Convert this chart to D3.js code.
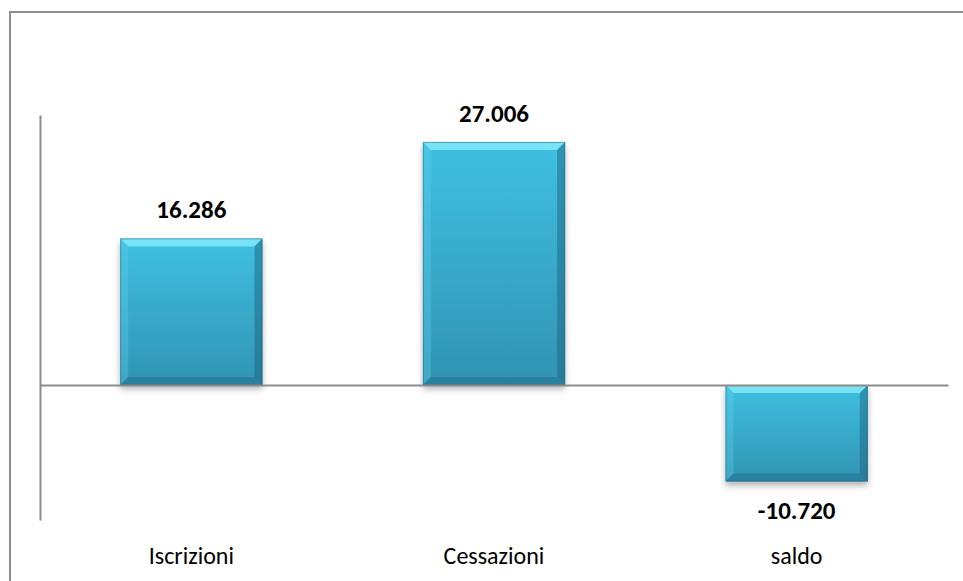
<!DOCTYPE html>
<html>
<head>
  <meta charset="utf-8">
  <title>Iscrizioni e cessazioni</title>
  <script src="https://cdnjs.cloudflare.com/ajax/libs/d3/7.8.5/d3.min.js"></script>
  <style>
    body { margin: 0; background: #fff; }
    svg text { font-family: Calibri, Carlito, Lato, "Open Sans", sans-serif; fill: #000; }
  </style>
</head>
<body>
<div id="chart"></div>
<script>
  var categories = ["Iscrizioni", "Cessazioni", "saldo"];
  var values = [16286, 27006, -10720];
  var yDomain = [-15000, 30000];

  var W = 963, H = 581;
  var plotLeft = 40, plotRight = 948, plotTop = 115, plotBottom = 520;

  var it = d3.formatLocale({decimal: ",", thousands: ".", grouping: [3], currency: ["", " €"], minus: "-"});
  var fmt = it.format(",");

  var svg = d3.select("#chart").append("svg")
    .attr("width", W)
    .attr("height", H);

  var defs = svg.append("defs");
  var grad = defs.append("linearGradient").attr("id", "barFill")
    .attr("x1", 0).attr("y1", 0).attr("x2", 0).attr("y2", 1);
  grad.append("stop").attr("offset", "0%").attr("stop-color", "#3fc0e2");
  grad.append("stop").attr("offset", "100%").attr("stop-color", "#3193b3");

  var shadow = defs.append("filter").attr("id", "shadow")
    .attr("x", "-10%").attr("y", "-10%").attr("width", "120%").attr("height", "130%");
  shadow.append("feDropShadow").attr("dx", 0).attr("dy", 4).attr("stdDeviation", 3)
    .attr("flood-color", "#000").attr("flood-opacity", 0.3);

  // outer chart frame (right and bottom edges fall off the page)
  svg.append("rect")
    .attr("x", 10).attr("y", 12)
    .attr("width", 1000).attr("height", 700)
    .attr("fill", "none")
    .attr("stroke", "#8e8e8e")
    .attr("stroke-width", 2);

  var x = d3.scaleBand()
    .domain(categories)
    .range([plotLeft, plotRight])
    .paddingInner(0.53)
    .paddingOuter(0.265);

  var y = d3.scaleLinear()
    .domain(yDomain)
    .range([plotBottom, plotTop]);

  var bars = svg.append("g").selectAll("g.bar")
    .data(values)
    .enter().append("g")
    .attr("class", "bar");

  bars.append("rect")
    .attr("x", function(d, i){ return x(categories[i]); })
    .attr("y", function(d){ return y(Math.max(0, d)); })
    .attr("width", x.bandwidth())
    .attr("height", function(d){ return Math.abs(y(d) - y(0)); })
    .attr("fill", "url(#barFill)")
    .attr("filter", "url(#shadow)");

  // bevel edges
  var b = 8;
  function bevel(d, i, side){
    var x0 = x(categories[i]), x1 = x0 + x.bandwidth();
    var y0 = y(Math.max(0, d)), y1 = y(Math.min(0, d));
    if (side == "top") return [[x0, y0], [x1, y0], [x1 - b, y0 + b], [x0 + b, y0 + b]];
    if (side == "bottom") return [[x0, y1], [x1, y1], [x1 - b, y1 - b], [x0 + b, y1 - b]];
    if (side == "left") return [[x0, y0], [x0 + b, y0 + b], [x0 + b, y1 - b], [x0, y1]];
    return [[x1, y0], [x1 - b, y0 + b], [x1 - b, y1 - b], [x1, y1]];
  }
  var bevelStyle = {
    top: ["#86ecfa", 0.8],
    left: ["#5fd0ec", 0.35],
    right: ["#1b5d78", 0.45],
    bottom: ["#1f6884", 0.45]
  };
  ["top", "left", "right", "bottom"].forEach(function(side){
    bars.append("polygon")
      .attr("points", function(d, i){ return bevel(d, i, side).join(" "); })
      .attr("fill", bevelStyle[side][0])
      .attr("opacity", bevelStyle[side][1]);
  });
  bars.append("rect")
    .attr("x", function(d, i){ return x(categories[i]) + 0.5; })
    .attr("y", function(d){ return y(Math.max(0, d)) + 0.5; })
    .attr("width", x.bandwidth() - 1)
    .attr("height", function(d){ return Math.abs(y(d) - y(0)) - 1; })
    .attr("fill", "none")
    .attr("stroke", "#1e5a70")
    .attr("stroke-opacity", 0.45);

  // axes
  svg.append("g")
    .attr("transform", "translate(" + plotLeft + ",0)")
    .call(d3.axisLeft(y).tickValues([]).tickSizeOuter(0));
  svg.append("g")
    .attr("transform", "translate(0," + y(0) + ")")
    .call(d3.axisBottom(x).tickValues([]).tickSizeOuter(0));
  svg.selectAll(".domain").attr("stroke", "#8c8c8c").attr("stroke-width", 2);

  // value labels
  bars.append("text")
    .attr("x", function(d, i){ return x(categories[i]) + x.bandwidth() / 2; })
    .attr("y", function(d){ return d >= 0 ? y(d) - 20 : y(d) + 38; })
    .attr("text-anchor", "middle")
    .style("font-size", "25px")
    .style("font-weight", "bold")
    .text(function(d){ return fmt(d); });

  // category labels
  svg.append("g").selectAll("text")
    .data(categories)
    .enter().append("text")
    .attr("x", function(d){ return x(d) + x.bandwidth() / 2; })
    .attr("y", 564)
    .attr("text-anchor", "middle")
    .style("font-size", "24px")
    .text(function(d){ return d; });
</script>
</body>
</html>
